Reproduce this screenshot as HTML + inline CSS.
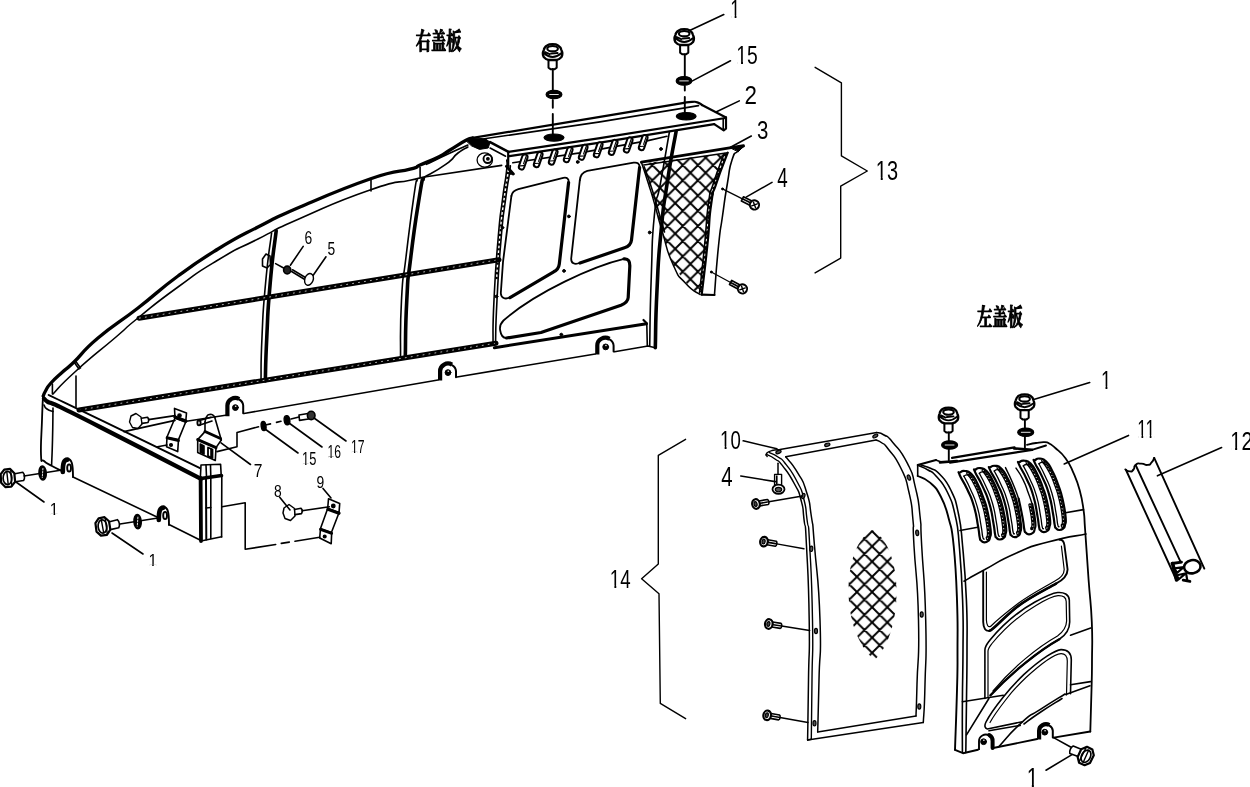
<!DOCTYPE html>
<html><head><meta charset="utf-8"><title>右盖板 左盖板</title>
<style>
html,body{margin:0;padding:0;background:#fff;}
body{width:1250px;height:787px;overflow:hidden;}
svg{display:block;filter:grayscale(1);}
text{font-family:"Liberation Sans","Noto Sans CJK SC",sans-serif;fill:#000;stroke:none;}
.cj{font-family:"Liberation Serif","Noto Serif CJK SC",serif;font-weight:700;}
</style></head><body>
<svg width="1250" height="787" viewBox="0 0 1250 787" fill="none" stroke="#000" stroke-linecap="round" stroke-linejoin="round">
<rect x="0" y="0" width="1250" height="787" fill="#fff" stroke="none"/>
<defs>
<pattern id="mesh" width="15.2" height="15.2" patternUnits="userSpaceOnUse" patternTransform="translate(675.2 172.8)">
<path d="M-1 -1 L16.2 16.2 M-1 16.2 L16.2 -1 M-1 14.2 L1 16.2 M14.2 -1 L16.2 1 M-1 1 L1 -1 M14.2 16.2 L16.2 14.2" stroke="#000" stroke-width="1.9" fill="none"/>
</pattern>
<pattern id="mesh2" width="15.2" height="15.2" patternUnits="userSpaceOnUse" patternTransform="translate(872.1 576.8)">
<path d="M-1 -1 L16.2 16.2 M-1 16.2 L16.2 -1 M-1 14.2 L1 16.2 M14.2 -1 L16.2 1 M-1 1 L1 -1 M14.2 16.2 L16.2 14.2" stroke="#000" stroke-width="1.9" fill="none"/>
</pattern>
</defs>
<path d="M43.2 396 C43.8 394.7 43.6 394.3 45.5 391 C47.4 387.7 46.1 388.4 50.5 383.5 C54.9 378.6 55.7 378.2 62 372.5 C68.3 366.8 64.4 371.2 74 362 C83.6 352.8 80.9 352.4 98 338 C115.1 323.6 116.7 324.5 138 308 C159.3 291.5 156.7 291.7 178 276 C199.3 260.3 196.7 262.1 218 249 C239.3 235.9 236.1 238.2 258 227 C279.9 215.8 270.1 219.8 300 207 C329.9 194.2 340.7 189.1 370 179 C399.3 168.9 396.7 172.9 410 169.2 C423.3 165.5 412.3 168.3 420 165 C427.7 161.7 431 160.7 439 156.7 C447 152.7 442.8 154.4 450 150 C457.2 145.6 459.9 143.5 466 140.3 C472.1 137.1 470.9 138.5 472.7 137.9" stroke-width="3.3" fill="none" />
<path d="M53 394 C60.7 386.3 55 390 76 371 C97 352 95.3 354.7 116 337 C136.7 319.3 117.3 334.7 138 318 C158.7 301.3 151.3 306.3 178 287 C204.7 267.7 191.3 276 218 260 C244.7 244 230.7 252.8 258 239 C285.3 225.2 262.7 234.8 300 218.5 C337.3 202.2 333.3 202.7 370 190 C406.7 177.3 391.8 184.6 410 180.3 C428.2 176 419.7 178.1 424.5 177" stroke-width="1.6" fill="none" />
<path d="M424.5 177 L501.7 165.4" stroke-width="1.6" fill="none" />
<path d="M426.4 164.4 C433.8 160.9 434.8 160.2 448.6 153.8 C462.4 147.4 461.5 148 467.9 145.1" stroke-width="1.6" fill="none" />
<path d="M424.5 177 C431.6 172.8 434.5 172.4 445.7 164.4 C456.9 156.4 450.6 158.8 458 153 C465.4 147.2 464.6 149 467.9 147" stroke-width="1.6" fill="none" />
<path d="M371 179 L371 191" stroke-width="1.6" fill="none" />
<path d="M74 362 L79 369" stroke-width="1.6" fill="none" />
<path d="M75.5 361 L80.5 368" stroke-width="1.6" fill="none" />
<path d="M420.1 167.3 L420.1 177" stroke-width="1.6" fill="none" />
<path d="M466 140.3 L472.7 137.9 L485.3 138.8 L490.1 142.2 L488.2 148 L479.5 149.4 L471.8 146 Z" stroke-width="1" fill="#000" />
<path d="M271.6 233 C269.6 249.7 268.8 248.3 265.6 283 C262.4 317.7 263.5 304.3 262 337 C260.5 369.7 261.3 366.3 261 381" stroke-width="1.6" fill="none" />
<path d="M276.2 230.8 C274.2 248.2 273.3 247.6 270.2 283 C267.1 318.4 268.4 304.3 266.8 337 C265.2 369.7 265.8 366.3 265.3 381" stroke-width="3.6" fill="none" />
<path d="M417.2 179.8 C416.1 185.2 417.6 170.3 413.9 196 C410.2 221.7 410.1 222.3 406 257 C401.9 291.7 403.3 266.3 401.5 300 C399.7 333.7 400.8 338.7 400.5 358" stroke-width="1.6" fill="none" />
<path d="M423.3 178.5 C422 184.3 423.7 169.8 419.5 196 C415.3 222.2 415 222.3 410.8 257 C406.6 291.7 408.6 266.7 406.8 300 C405 333.3 405.8 338 405.3 357" stroke-width="3.6" fill="none" />
<path d="M139 318.2 L499 259.7" stroke-width="5" fill="none" />
<path d="M139 318.2 L499 259.7" stroke-width="0.7" fill="none" stroke="#fff" stroke-dasharray="1.8 4.2" stroke-linecap="butt"/>
<path d="M79 410 L496 343.2" stroke-width="5" fill="none" />
<path d="M79 410 L496 343.2" stroke-width="0.7" fill="none" stroke="#fff" stroke-dasharray="1.8 4.2" stroke-linecap="butt"/>
<path d="M124 431.6 L175 420.4" stroke-width="1.6" fill="none" />
<path d="M186.5 421.3 L225.5 415.3" stroke-width="1.6" fill="none" />
<path d="M244 413.5 L438 380" stroke-width="1.6" fill="none" />
<path d="M457 377 L595.3 354" stroke-width="1.6" fill="none" />
<path d="M614.5 351.7 L648 346 L655.3 347.7" stroke-width="1.6" fill="none" />
<path d="M227.4 416.2 L227.4 405.5 A7.9 7.5 0 0 1 239.2 399" stroke-width="4.2" stroke-linecap="butt"/>
<path d="M239.2 399.5 A7.9 7.5 0 0 1 243.2 405.5 L243.2 413.3" stroke-width="2"/>
<ellipse cx="235.4" cy="407.6" rx="2.9" ry="2.9" stroke-width="1" fill="#000"/>
<ellipse cx="235.7" cy="406.2" rx="0.9" ry="0.7" stroke-width="0.1" fill="#fff"/>
<path d="M440.1 380.6 L440.1 371.1 A7.9 7.6 0 0 1 452 364.6" stroke-width="4.2" stroke-linecap="butt"/>
<path d="M452 365.1 A7.9 7.6 0 0 1 456 371.1 L456 377.2" stroke-width="2"/>
<ellipse cx="448" cy="372.6" rx="2.9" ry="2.9" stroke-width="1" fill="#000"/>
<ellipse cx="448.3" cy="371.2" rx="0.9" ry="0.7" stroke-width="0.1" fill="#fff"/>
<path d="M597.3 354.6 L597.3 345.5 A8.1 7.7 0 0 1 609.5 338.8" stroke-width="4.2" stroke-linecap="butt"/>
<path d="M609.5 339.3 A8.1 7.7 0 0 1 613.6 345.5 L613.6 351.6" stroke-width="2"/>
<ellipse cx="605.7" cy="346.9" rx="2.9" ry="2.9" stroke-width="1" fill="#000"/>
<ellipse cx="606" cy="345.5" rx="0.9" ry="0.7" stroke-width="0.1" fill="#fff"/>
<path d="M48.6 395 C50.5 395.9 47.7 394.6 58 399.5 C68.3 404.4 71.6 405.9 100 419.6 C128.4 433.3 180 458.5 200 468.2" stroke-width="1.9" fill="none" />
<path d="M44 398.5 C44.8 399.2 45.2 400.5 48 402 C50.8 403.5 47.6 401 58 406 C68.4 411 71.4 412.4 100 427 C128.6 441.6 180.8 468.4 201 478.8" stroke-width="4.3" fill="none" />
<path d="M52.4 384 L52.4 394" stroke-width="1.6" fill="none" />
<path d="M43 396 C42.7 402.4 42.5 404.3 42 420 C41.5 435.7 40.5 444.1 41 455 C41.5 465.9 41.1 458.1 44 461 C46.9 463.9 47.2 463.3 52 466 C56.8 468.7 59.3 469.7 62 471" stroke-width="1.8" fill="none" />
<path d="M53 408 C52.8 418.7 53 421 52.5 440 C52 459 51.9 456.7 51.6 465" stroke-width="1.6" fill="none" />
<path d="M44 405 C45 406.3 44 406.8 47 409 C50 411.2 51 410.7 53 411.5" stroke-width="1.6" fill="none" />
<path d="M76 376 L76 407" stroke-width="1.6" fill="none" />
<path d="M73 477 L158 517.5" stroke-width="1.6" fill="none" />
<path d="M169 524.5 L200 540" stroke-width="1.6" fill="none" />
<path d="M62.8 472 C62.8 462.5 64 459.8 67.5 459.6" stroke-width="4.6"/>
<path d="M67.5 459 C71.5 459 73 463 73 477" stroke-width="1.9"/>
<ellipse cx="69.1" cy="468" rx="1.9" ry="3.6" stroke-width="1.9" fill="none"/>
<path d="M158.8 520 C158.8 510.5 160 507.8 163.5 507.6" stroke-width="4.6"/>
<path d="M163.5 507 C167.5 507 169 511 169 525" stroke-width="1.9"/>
<ellipse cx="165.1" cy="515.5" rx="1.9" ry="3.6" stroke-width="1.9" fill="none"/>
<path d="M200.4 477 L201 465 L220.6 464.3 L221.2 475.5" stroke-width="1.6" fill="none" />
<path d="M206 465 L206.5 477" stroke-width="1.6" fill="none" />
<path d="M210.5 465 L210.8 476.5" stroke-width="1.6" fill="none" />
<path d="M201 478.5 L221.5 475.5" stroke-width="3.6" fill="none" />
<path d="M200.6 478 L201 541" stroke-width="3.8" fill="none" />
<path d="M206 479 L206.3 539.5" stroke-width="2" fill="none" />
<path d="M210.8 478 L210.8 538.5" stroke-width="1.6" fill="none" />
<path d="M221.8 476 L221.6 537" stroke-width="1.6" fill="none" />
<path d="M201 541 L221.6 536.8" stroke-width="1.6" fill="none" />
<path d="M206 508 L210.8 507.5" stroke-width="1.6" fill="none" />
<path d="M222 506.8 L245.2 502.8 L245.2 549.3 L275.7 544.5" stroke-width="1.6" fill="none" />
<path d="M281.3 543.4 L289.3 542.1" stroke-width="1.6" fill="none" />
<path d="M295 541.3 L319.7 537.3" stroke-width="1.6" fill="none" />
<g transform="translate(8 478) rotate(-2)"><path d="M-3.5 -8.5 L2.5 -9 L6.5 -4.5 L7 4 L3 8.8 L-3 9 L-7 4.5 L-7.2 -4 Z" stroke-width="2.2"/><ellipse cx="-0.5" cy="0" rx="4.4" ry="6.6" stroke-width="1.7"/><path d="M-1 -6.6 L0 6.6 M3 -8.5 L3.5 8.5" stroke-width="1.4"/><path d="M7 -4 L15 -5.2 C17 -3,17 1,15.5 3 L7 4" stroke-width="1.6"/></g>
<g transform="translate(103 526.4) rotate(-6)"><path d="M-3.5 -8.5 L2.5 -9 L6.5 -4.5 L7 4 L3 8.8 L-3 9 L-7 4.5 L-7.2 -4 Z" stroke-width="2.2"/><ellipse cx="-0.5" cy="0" rx="4.4" ry="6.6" stroke-width="1.7"/><path d="M-1 -6.6 L0 6.6 M3 -8.5 L3.5 8.5" stroke-width="1.4"/><path d="M7 -4 L15 -5.2 C17 -3,17 1,15.5 3 L7 4" stroke-width="1.6"/></g>
<path d="M24 476 L62 470" stroke-width="1.6" fill="none" />
<path d="M120 524 L158 518" stroke-width="1.6" fill="none" />
<ellipse cx="42.6" cy="473" rx="3.6" ry="7" stroke-width="1.6" fill="#000" transform="rotate(-4 42.6 473)"/>
<path d="M42.9 468.5 L42.3 477.5" stroke="#fff" stroke-width="0.9" stroke-dasharray="1.5 1.5"/>
<ellipse cx="137.6" cy="521.6" rx="3.6" ry="7" stroke-width="1.6" fill="#000" transform="rotate(-4 137.6 521.6)"/>
<path d="M137.9 517.1 L137.3 526.1" stroke="#fff" stroke-width="0.9" stroke-dasharray="1.5 1.5"/>
<path d="M16 482 L44 502" stroke-width="1.6" fill="none" />
<path d="M112 533 L143 554" stroke-width="1.6" fill="none" />
<path d="M174.5 408.4 L186.5 413 L185.7 422 L175 418 Z" stroke-width="1.6" fill="none" />
<path d="M175 418 L167 437" stroke-width="1.6" fill="none" />
<path d="M185.7 422 L178.5 439.6" stroke-width="1.6" fill="none" />
<path d="M167 437 L178.5 439.6 L177.7 451.6 L166.5 446.8 Z" stroke-width="1.6" fill="none" />
<path d="M167 438 L178.5 440.6" stroke-width="2.8" fill="none" />
<path d="M175 417.2 L185.8 421.2" stroke-width="3.4" fill="none" />
<ellipse cx="179.5" cy="415.6" rx="1.6" ry="1.6" stroke-width="1.5" fill="#000"/>
<ellipse cx="171" cy="445" rx="1.4" ry="1.4" stroke-width="1.3" fill="#000"/>
<path d="M157.6 446.8 L167 445" stroke-width="1.6" fill="none" />
<path d="M131 416 L136 413.5 L141 417 L142 424 L138 428.5 L132.5 427.5 L129.5 422 Z" stroke-width="1.4" fill="none" />
<path d="M141.5 418.2 L147.5 417.2 L149 419.5 L148 422.5 L142 423.4" stroke-width="1.6" fill="none" />
<path d="M148.5 419.6 L175 415.6" stroke-width="1.6" fill="none" />
<ellipse cx="199" cy="422.8" rx="1.6" ry="2.6" stroke-width="1.9" fill="none"/>
<path d="M199.5 420.6 L211 417.2" stroke-width="1.6" fill="none" />
<path d="M200 425 L212 421" stroke-width="1.6" fill="none" />
<path d="M205 422 C205.5 420.3 205 419.5 206.5 417 C208 414.5 207.3 415.2 209.5 414.6 C211.7 414 211.2 414.2 213 415.2 C214.8 416.2 214.2 416.7 214.8 417.5" stroke-width="1.6" fill="none" />
<path d="M214.8 417.5 L221.3 440" stroke-width="1.6" fill="none" />
<path d="M205 422 L205 431.6 L197.7 439.6 L197.7 452.4 L215.3 460.5 L216 447.6 L221.3 440" stroke-width="1.6" fill="none" />
<path d="M205 431.5 L220.5 438.5" stroke-width="3" fill="none" />
<path d="M197.7 439.6 L216 447.6" stroke-width="3" fill="none" />
<path d="M200.3 444 L200.3 452 L204 454 L204 446 Z" stroke-width="1.6" fill="#000" />
<path d="M208 447.5 L208 456 L212.5 458 L212.5 449.5 Z" stroke-width="1.8" fill="none" />
<path d="M211.3 449.5 L211.3 457" stroke-width="2.2" fill="none" />
<path d="M217 451.6 L237 446.8 L237 432.4 L258.5 426.8" stroke-width="1.6" fill="none" />
<path d="M266.5 424.8 L270.5 423.9" stroke-width="1.6" fill="none" />
<path d="M276.5 422.4 L281 421.3" stroke-width="1.6" fill="none" />
<path d="M291 419 L299 417" stroke-width="1.6" fill="none" />
<path d="M221 442.8 L250.5 464.5" stroke-width="1.6" fill="none" />
<ellipse cx="263.6" cy="426" rx="2.4" ry="4.6" stroke-width="1.4" fill="#000" transform="rotate(-8 263.6 426)"/>
<ellipse cx="287" cy="420.2" rx="2.8" ry="4.6" stroke-width="1.4" fill="#000" transform="rotate(-8 287 420.2)"/>
<path d="M299 415 L308 413.5 L308.5 419 L299.5 420.4 Z" stroke-width="1.6" fill="none" />
<ellipse cx="311.2" cy="415.4" rx="3.8" ry="4.2" stroke-width="1.6" fill="#333"/>
<path d="M265 429 L298 453" stroke-width="1.6" fill="none" />
<path d="M289 423 L322 447" stroke-width="1.6" fill="none" />
<path d="M314 418 L346 441" stroke-width="1.6" fill="none" />
<path d="M284 508 L289 504.5 L294.5 508.5 L295 516 L290.5 520.5 L285 518.5 L283 513 Z" stroke-width="1.5" fill="none" />
<path d="M294.5 509.5 L301 508.3 L302.6 510.5 L301.6 513.6 L295 514.6" stroke-width="1.6" fill="none" />
<path d="M302 510.8 L329.3 506.8" stroke-width="1.6" fill="none" />
<path d="M328.5 498.8 L339.7 503.6 L339 512.8 L327.7 508.4 Z" stroke-width="1.6" fill="none" />
<path d="M327.7 508.4 L320.5 528.4" stroke-width="1.6" fill="none" />
<path d="M339 512.8 L331.7 531.7" stroke-width="1.6" fill="none" />
<path d="M320.5 528.5 L331.7 532.4 L331.2 543.7 L319.7 538 Z" stroke-width="1.6" fill="none" />
<path d="M328 509.2 L339 513.3" stroke-width="3.2" fill="none" />
<path d="M320.5 529.5 L331.7 533.3" stroke-width="2.8" fill="none" />
<ellipse cx="333.3" cy="506" rx="1.7" ry="1.7" stroke-width="1.4" fill="#000"/>
<ellipse cx="324.7" cy="536.5" rx="1.4" ry="1.4" stroke-width="1.3" fill="#000"/>
<path d="M323 488.4 L331 498" stroke-width="1.6" fill="none" />
<path d="M279.7 497.2 L290 510" stroke-width="1.6" fill="none" />
<path d="M262.5 259 L266 254 L270 256 L270.5 264.5 L267 268 L262.5 266 Z" stroke-width="1.6" fill="none" />
<path d="M275.6 263.6 L283.6 268" stroke-width="1.6" fill="none" />
<ellipse cx="287.2" cy="270" rx="3.6" ry="3.9" stroke-width="1.6" fill="#222"/>
<path d="M291.6 271.5 L304.4 279.2" stroke-width="1.6" fill="none" />
<path d="M292.5 269.8 L305 277.2" stroke-width="1.6" fill="none" />
<ellipse cx="309" cy="279.4" rx="4.2" ry="6" stroke-width="1.4" fill="none" transform="rotate(20 309 279.4)"/>
<path d="M290.4 265.2 L303.2 246.4" stroke-width="1.6" fill="none" />
<path d="M313.2 275.2 L326 256.8" stroke-width="1.6" fill="none" />
<path d="M472.7 137.9 L600 116.8 L684 102.8" stroke-width="2.2" fill="none" />
<path d="M684 102.8 C686.7 102.5 687.5 102 692 101.9 C696.5 101.8 694.1 101.4 697.4 102.4 C700.7 103.4 700.5 104.1 702 105" stroke-width="2.2" fill="none" />
<path d="M702 105 L726 117.4" stroke-width="2.2" fill="none" />
<path d="M484.3 138.8 L600 121.9 L698.5 105.6" stroke-width="1.6" fill="none" />
<path d="M490.1 142.2 L508.5 151.9" stroke-width="2.6" fill="none" />
<path d="M490.1 148 L505.6 156.2" stroke-width="1.6" fill="none" />
<path d="M508.5 151.9 L600 138.1 L725.4 118" stroke-width="2.2" fill="none" />
<path d="M509.4 156.2 L600 142.6 L714.2 124.1" stroke-width="2.2" fill="none" />
<path d="M726 117.4 L726 128.6 L723.7 130.3 L714.2 124.1" stroke-width="2.2" fill="none" />
<path d="M723.2 119.1 L723.2 129.7" stroke-width="1.6" fill="none" />
<ellipse cx="554" cy="137.6" rx="10" ry="3.6" stroke-width="1.2" fill="#000"/>
<ellipse cx="686.2" cy="116.3" rx="9.9" ry="3.7" stroke-width="1.2" fill="#000"/>
<ellipse cx="554" cy="94.5" rx="7.9" ry="4.2" stroke-width="1.2" fill="#000"/>
<path d="M549.7 94.5 L558.3 94.5" stroke="#fff" stroke-width="0.9"/>
<ellipse cx="684" cy="80.9" rx="7.8" ry="4.3" stroke-width="1.2" fill="#000"/>
<path d="M679.7 80.9 L688.3 80.9" stroke="#fff" stroke-width="0.9"/>
<g transform="translate(552.6 44)"><path d="M-5.5 1.4 C-3 -0.3,3 -0.3,5.5 1.4 C7.5 2.6,8.6 4.2,8.8 6 C9.8 8,9.9 11,9 12.8 L6.6 15 L4 16 L-4 16 L-6.6 15 L-9 12.8 C-9.9 11,-9.8 8,-8.8 6 C-8.6 4.2,-7.5 2.6,-5.5 1.4 Z" stroke-width="2.3" fill="#fff"/><ellipse cx="0" cy="4.7" rx="5.3" ry="2.7" stroke-width="2.1"/><path d="M-8.6 9.2 C-5 12.4,-2 13,0 13 C2 13,5 12.4,8.6 9.2 M-7.5 8 L-3 10.2 M-1.5 9.6 L5 9" stroke-width="1.9"/><path d="M-4.1 16 L-4.1 23.6 L-2 25.2 L2 25.2 L4.1 23.6 L4.1 16" stroke-width="2.0"/></g>
<g transform="translate(684.2 29)"><path d="M-5.5 1.4 C-3 -0.3,3 -0.3,5.5 1.4 C7.5 2.6,8.6 4.2,8.8 6 C9.8 8,9.9 11,9 12.8 L6.6 15 L4 16 L-4 16 L-6.6 15 L-9 12.8 C-9.9 11,-9.8 8,-8.8 6 C-8.6 4.2,-7.5 2.6,-5.5 1.4 Z" stroke-width="2.3" fill="#fff"/><ellipse cx="0" cy="4.7" rx="5.3" ry="2.7" stroke-width="2.1"/><path d="M-8.6 9.2 C-5 12.4,-2 13,0 13 C2 13,5 12.4,8.6 9.2 M-7.5 8 L-3 10.2 M-1.5 9.6 L5 9" stroke-width="1.9"/><path d="M-4.1 16 L-4.1 23.6 L-2 25.2 L2 25.2 L4.1 23.6 L4.1 16" stroke-width="2.0"/></g>
<path d="M552.8 69 L552.8 90.5" stroke-width="1.9" fill="none" />
<path d="M552.8 100 L552.8 107.8" stroke-width="1.9" fill="none" />
<path d="M552.8 114 L552.8 135" stroke-width="1.9" fill="none" />
<path d="M684.8 54.5 L684.8 77" stroke-width="1.9" fill="none" />
<path d="M684.8 86 L684.8 90.5" stroke-width="1.9" fill="none" />
<path d="M684.8 97 L684.8 114.5" stroke-width="1.9" fill="none" />
<path d="M690.2 30.2 L723.8 14.6" stroke-width="1.6" fill="none" />
<path d="M691 81.6 L730.5 60.8" stroke-width="1.6" fill="none" />
<path d="M716 112 L739.3 100.9" stroke-width="1.6" fill="none" />
<path d="M730.5 147.2 L751.3 136" stroke-width="1.6" fill="none" />
<path d="M746.5 196.9 L772 182.4" stroke-width="1.6" fill="none" />
<path d="M512.8 162.8 L580 152.9 L648 140.6 L667 136.2" stroke-width="1.6" fill="none" />
<path d="M508.2 152 L508.2 166" stroke-width="2.2" fill="none" />
<g transform="translate(523.2 162) rotate(19)"><rect x="-2.7" y="-7.8" width="5.4" height="15.6" rx="2.7" ry="2.7" stroke-width="2.0" fill="#fff"/><path d="M0.9 -6.5 L0.9 1.5 M-1.6 4.6 L1.9 3.2" stroke-width="1.1"/></g>
<g transform="translate(538.2 159.6) rotate(19)"><rect x="-2.7" y="-7.8" width="5.4" height="15.6" rx="2.7" ry="2.7" stroke-width="2.0" fill="#fff"/><path d="M0.9 -6.5 L0.9 1.5 M-1.6 4.6 L1.9 3.2" stroke-width="1.1"/></g>
<g transform="translate(553.2 157.1) rotate(19)"><rect x="-2.7" y="-7.8" width="5.4" height="15.6" rx="2.7" ry="2.7" stroke-width="2.0" fill="#fff"/><path d="M0.9 -6.5 L0.9 1.5 M-1.6 4.6 L1.9 3.2" stroke-width="1.1"/></g>
<g transform="translate(568.2 154.7) rotate(19)"><rect x="-2.7" y="-7.8" width="5.4" height="15.6" rx="2.7" ry="2.7" stroke-width="2.0" fill="#fff"/><path d="M0.9 -6.5 L0.9 1.5 M-1.6 4.6 L1.9 3.2" stroke-width="1.1"/></g>
<g transform="translate(583.2 152.3) rotate(19)"><rect x="-2.7" y="-7.8" width="5.4" height="15.6" rx="2.7" ry="2.7" stroke-width="2.0" fill="#fff"/><path d="M0.9 -6.5 L0.9 1.5 M-1.6 4.6 L1.9 3.2" stroke-width="1.1"/></g>
<g transform="translate(598.2 149.8) rotate(19)"><rect x="-2.7" y="-7.8" width="5.4" height="15.6" rx="2.7" ry="2.7" stroke-width="2.0" fill="#fff"/><path d="M0.9 -6.5 L0.9 1.5 M-1.6 4.6 L1.9 3.2" stroke-width="1.1"/></g>
<g transform="translate(613.2 147.4) rotate(19)"><rect x="-2.7" y="-7.8" width="5.4" height="15.6" rx="2.7" ry="2.7" stroke-width="2.0" fill="#fff"/><path d="M0.9 -6.5 L0.9 1.5 M-1.6 4.6 L1.9 3.2" stroke-width="1.1"/></g>
<g transform="translate(628.2 145) rotate(19)"><rect x="-2.7" y="-7.8" width="5.4" height="15.6" rx="2.7" ry="2.7" stroke-width="2.0" fill="#fff"/><path d="M0.9 -6.5 L0.9 1.5 M-1.6 4.6 L1.9 3.2" stroke-width="1.1"/></g>
<g transform="translate(643.2 142.6) rotate(19)"><rect x="-2.7" y="-7.8" width="5.4" height="15.6" rx="2.7" ry="2.7" stroke-width="2.0" fill="#fff"/><path d="M0.9 -6.5 L0.9 1.5 M-1.6 4.6 L1.9 3.2" stroke-width="1.1"/></g>
<ellipse cx="484.8" cy="160" rx="7.7" ry="7.2" stroke-width="1.3" fill="none"/>
<ellipse cx="487.7" cy="158.8" rx="4.2" ry="4.2" stroke-width="1.9" fill="none"/>
<ellipse cx="487.9" cy="158.8" rx="1.3" ry="1.3" stroke-width="1.2" fill="#000"/>
<path d="M506.8 160 C506.7 164.1 507.9 159.1 506.4 172.4 C504.9 185.7 505.2 177.5 502.4 200 C499.6 222.5 500.8 206.7 498 240 C495.2 273.3 495.7 265.3 494 300 C492.3 334.7 493.3 329.3 493 344" stroke-width="1.6" fill="none" />
<path d="M510 166 C509.9 168.1 511.1 161.1 509.6 172.4 C508.1 183.7 508.4 177.5 505.5 200 C502.6 222.5 503.8 206.7 501 240 C498.2 273.3 498.8 265.3 497 300 C495.2 334.7 496 329.3 495.5 344" stroke-width="1.6" fill="none" />
<path d="M508.2 172 L504 200 L499.5 240 L496.5 280" stroke="#000" stroke-width="2.2" stroke-dasharray="2.2 2.6" stroke-linecap="butt"/>
<path d="M506.5 166.3 L513.3 174" stroke-width="3" fill="none" />
<path d="M669.4 132 C666.4 149 665.5 155.3 660.5 183 C655.5 210.7 657.5 184 654.4 215 C651.3 246 652.9 232.3 651.3 276 C649.7 319.7 650.2 322.7 649.7 346" stroke-width="1.6" fill="none" />
<path d="M676.1 131.5 C673.1 148.7 672.2 149.5 667.2 183 C662.2 216.5 664.4 196.3 661 232 C657.6 267.7 658.9 251.4 657 290 C655.1 328.6 655.9 328.5 655.3 347.7" stroke-width="3.6" fill="none" />
<path d="M494.4 347.7 L646.5 323.7" stroke-width="3" fill="none" />
<path d="M646.8 324 L647.3 346" stroke-width="1.6" fill="none" />
<path d="M643.5 320 L646.5 323" stroke-width="2.2" fill="none" />
<path d="M511.4 196 C512 192.5,514 190.5,518.4 189.2 L563.3 177.9 C566.8 177.2,569.2 178.6,568.6 182.5" stroke-width="1.8"/>
<path d="M568.6 182.5 L559.3 264 C558.8 268.2,557 270.2,553.7 271.8 L510 297.6" stroke-width="3.2"/>
<path d="M510 297.6 C505 299.6,501.2 298.2,500.8 293.2 L503 262 L511.4 196" stroke-width="1.8"/>
<path d="M579.8 180.4 C580.2 175.5,582.5 172.2,587.3 170.8 L633.6 162.7 C637.6 162.2,639.8 163.5,639.6 167.5" stroke-width="1.8"/>
<path d="M639.6 167.5 L631.5 240 C631 244,629 246.4,624.5 247.8 L580 263" stroke-width="3.2"/>
<path d="M580 263 C574.5 264.8,571 263.5,571.2 258.5 L579.8 180.4" stroke-width="1.8"/>
<path d="M624 258.9 C594 266,536 292,503.5 320.5 C500 324,499.5 327,500.2 330.5 C501 335.5,502.5 338.2,506.5 338" stroke-width="1.8"/>
<path d="M506.5 338 L541 332.5 L621 305.2 C626 303.2,628 301,628.2 297.5 L629.8 266.5 C630 261.5,628.5 258.5,624 258.9" stroke-width="3.2"/>
<ellipse cx="577.7" cy="162" rx="1.4" ry="1.4" stroke-width="1" fill="#000"/>
<ellipse cx="568.9" cy="216.4" rx="1.4" ry="1.4" stroke-width="1" fill="#000"/>
<ellipse cx="649.7" cy="232.5" rx="1.4" ry="1.4" stroke-width="1" fill="#000"/>
<ellipse cx="564" cy="270.9" rx="1.4" ry="1.4" stroke-width="1" fill="#000"/>
<ellipse cx="502.4" cy="227.7" rx="1.4" ry="1.4" stroke-width="1" fill="#000"/>
<ellipse cx="511" cy="173" rx="1.4" ry="1.4" stroke-width="1" fill="#000"/>
<ellipse cx="661" cy="149" rx="1.4" ry="1.4" stroke-width="1" fill="#000"/>
<ellipse cx="561.3" cy="334.6" rx="1.4" ry="1.4" stroke-width="1" fill="#000"/>
<ellipse cx="496.5" cy="296.5" rx="1.4" ry="1.4" stroke-width="1" fill="#000"/>
<path d="M642.5 163.5 L727 153 L716.5 183 L711.3 203.3 L707.3 246 L701.5 294 L700 294 C692 290,684 282,672.8 264 C668 254,664 240,662.4 232 L654.4 203.3 L648.2 183 Z" fill="url(#mesh)" stroke="none"/>
<path d="M641.4 162.2 L743.5 145.6" stroke-width="2.8" fill="none" />
<path d="M643.7 165 L727.7 152.7" stroke-width="1.6" fill="none" />
<path d="M641.4 162.2 C643.7 169.1 643.9 169.3 648.2 183 C652.5 196.7 649.7 187 654.4 203.3 C659.1 219.6 656.3 211.8 662.4 232 C668.5 252.2 665.1 246.9 672.8 264 C680.5 281.1 676.5 273.1 685.6 283.3 C694.7 293.5 695.2 290.8 700 294.5" stroke-width="1.5" fill="none" />
<path d="M644.2 166.7 C646.3 172.8 646.3 171.9 650.6 185 C654.9 198.1 652.4 190.3 657 206 C661.6 221.7 662 223.3 664.5 232" stroke-width="1.6" fill="none" />
<path d="M727.7 152.7 C724 162.8 722 166.1 716.5 183 C711 199.9 714.4 182.3 711.3 203.3 C708.2 224.3 710.5 215.6 707.3 246 C704.1 276.4 703.6 278.3 701.7 294.5" stroke-width="2.2" fill="none" />
<path d="M724.2 153.5 C720.6 163.3 718.7 166.4 713.5 183 C708.3 199.6 711.5 182.3 708.5 203.3 C705.5 224.3 707.5 216.1 704.5 246 C701.5 275.9 701.2 277.3 699.5 293" stroke-width="1.6" fill="none" />
<path d="M725.8 154 L715 183 L710 203.3 L706 246 L700.8 292" stroke="#000" stroke-width="2.6" stroke-dasharray="2.5 2.5" stroke-linecap="butt"/>
<path d="M744 146.4 C742 147.9 742 146.5 738 151 C734 155.5 735.6 149 732 160 C728.4 171 730.5 165.3 727.3 184 C724.1 202.7 725.4 195.3 722.5 216 C719.6 236.7 721.2 219.8 718.5 246 C715.8 272.2 715.8 278.3 714.5 294.5" stroke-width="1.6" fill="none" />
<path d="M730 147.6 L744 146 L738.5 151.5 Z" stroke-width="1" fill="#000" />
<path d="M701.7 294.7 L714.5 295" stroke-width="2.2" fill="none" />
<g transform="translate(754.5 204.9) rotate(-153.4)"><path d="M3.5 -2.3 L13.5 -2.3 L13.5 2.3 L3.5 2.3 M4 0 L13 0" stroke-width="1.7"/><circle cx="0" cy="0" r="4.6" stroke-width="2.0" fill="#fff"/><path d="M-2.2 -2 L2.2 2 M-2 2.2 L2 -2.2" stroke-width="1.4"/><path d="M13.5 0 L35.8 0" stroke-width="1.25"/></g>
<g transform="translate(742.5 288.9) rotate(-151.6)"><path d="M3.5 -2.3 L13.5 -2.3 L13.5 2.3 L3.5 2.3 M4 0 L13 0" stroke-width="1.7"/><circle cx="0" cy="0" r="4.6" stroke-width="2.0" fill="#fff"/><path d="M-2.2 -2 L2.2 2 M-2 2.2 L2 -2.2" stroke-width="1.4"/><path d="M13.5 0 L35.5 0" stroke-width="1.25"/></g>
<ellipse cx="722.5" cy="188.9" rx="1" ry="1" stroke-width="1" fill="#000"/>
<ellipse cx="711.3" cy="272" rx="1" ry="1" stroke-width="1" fill="#000"/>
<path d="M815.1 67.3 L841.4 82.8 L841.4 155.9 L867.3 171 L840.7 186.1 L840.7 258.1 L815.1 272.9" stroke-width="1.4" fill="none" />
<path d="M685.6 439.3 L658.3 455.4 L658.3 564 L641.6 578.8 L659 593.7 L660.3 703.4 L685.6 718.7" stroke-width="1.4" fill="none" />
<path d="M872 530 C886 536,896 560,896.5 590 C897 620,888 648,874.5 660 C858 646,848.5 620,848.5 590 C848.5 560,858 538,872 530 Z" fill="url(#mesh2)" stroke="none"/>
<path d="M780 449.6 L876.8 432.5" stroke-width="1.5" fill="none" />
<path d="M785.7 456.8 L876 440" stroke-width="1.5" fill="none" />
<path d="M780 449.6 C777.3 449.9 776.5 449.2 772 450.5 C767.5 451.8 768.1 451.6 766.5 453.6 C764.9 455.6 767 455.5 767.2 456.5" stroke-width="1.4" fill="none" />
<path d="M766.5 454.4 C769.3 455.9 769.5 455 775 459 C780.5 463 776.5 458.1 783 466.4 C789.5 474.7 788.5 472.8 794.5 484 C800.5 495.2 797.8 488.2 801 500 C804.2 511.8 802.2 504 804 519.3 C805.8 534.6 804.8 512.4 806.5 546 C808.2 579.6 808.5 575.3 809.2 620 C809.9 664.7 809 640 808.5 680 C808 720 807.9 720 807.6 740" stroke-width="1.5" fill="none" />
<path d="M769.5 452.6 C772.3 454.1 772.5 453.1 778 457 C783.5 460.9 779.6 456.1 786 464.4 C792.4 472.7 791.4 470.5 797.3 482 C803.2 493.5 800.6 486.6 803.8 499 C807 511.4 805 503.6 807 519.3 C809 535 807.9 512.4 809.7 546 C811.5 579.6 811.7 575.3 812.5 620 C813.3 664.7 812.4 640.2 812 680 C811.6 719.8 811.5 719.5 811.3 739.3" stroke-width="1.4" fill="none" />
<path d="M785.7 456.8 C789.7 462.1 790.8 461.1 797.7 472.8 C804.6 484.5 802 477.6 806.5 492 C811 506.4 808.6 498 811.3 516 C814 534 811.6 511.3 814.5 546 C817.4 580.7 818.5 575.3 820 620 C821.5 664.7 819.8 642.7 819 680 C818.2 717.3 818.1 714.7 817.7 732" stroke-width="1.5" fill="none" />
<path d="M807.6 740 L923.3 722.5" stroke-width="1.5" fill="none" />
<path d="M817.7 732 L916 716" stroke-width="1.5" fill="none" />
<path d="M807.6 740 L811.3 739.3" stroke-width="1.4" fill="none" />
<path d="M876.8 432.5 C879.2 433.3 878.7 431.7 884 435 C889.3 438.3 885 433 892.8 442.4 C900.6 451.8 899.8 448.3 907.3 463.2 C914.8 478.1 911.1 469.6 915.3 487.2 C919.5 504.8 917.9 496.4 920 516 C922.1 535.6 919.8 511.3 921.7 546 C923.6 580.7 924.6 574 925.7 620 C926.8 666 925.8 649.8 925 684 C924.2 718.2 923.9 709.7 923.3 722.5" stroke-width="1.5" fill="none" />
<path d="M876 440 C878 441 878 440.1 882 443 C886 445.9 881.7 440.5 888 448.8 C894.3 457.1 893.8 453.6 900.8 468 C907.8 482.4 904.9 474.9 908.9 492 C912.9 509.1 911.2 501.3 912.9 519.3 C914.6 537.3 912.1 512.4 914 546 C915.9 579.6 917.5 574 918.5 620 C919.5 666 917.8 652 917 684 C916.2 716 916.3 705.3 916 716" stroke-width="1.5" fill="none" />
<ellipse cx="778.5" cy="452" rx="1.5" ry="2.7" stroke-width="1.2" fill="#555" transform="rotate(70 778.5 452)"/>
<ellipse cx="827.3" cy="444.8" rx="1.5" ry="2.7" stroke-width="1.2" fill="#555" transform="rotate(70 827.3 444.8)"/>
<ellipse cx="875.3" cy="436" rx="1.5" ry="2.7" stroke-width="1.2" fill="#555" transform="rotate(60 875.3 436)"/>
<ellipse cx="803.3" cy="496" rx="1.5" ry="2.7" stroke-width="1.2" fill="#555" transform="rotate(20 803.3 496)"/>
<ellipse cx="908.9" cy="477.6" rx="1.5" ry="2.7" stroke-width="1.2" fill="#555" transform="rotate(-20 908.9 477.6)"/>
<ellipse cx="811.3" cy="548.8" rx="1.5" ry="2.7" stroke-width="1.2" fill="#555" transform="rotate(5 811.3 548.8)"/>
<ellipse cx="917.2" cy="532.9" rx="1.5" ry="2.7" stroke-width="1.2" fill="#555" transform="rotate(-5 917.2 532.9)"/>
<ellipse cx="816" cy="631" rx="1.5" ry="2.7" stroke-width="1.2" fill="#555"/>
<ellipse cx="921.7" cy="614.5" rx="1.5" ry="2.7" stroke-width="1.2" fill="#555"/>
<ellipse cx="814.5" cy="723.3" rx="1.5" ry="2.7" stroke-width="1.2" fill="#555"/>
<ellipse cx="919.3" cy="706.5" rx="1.5" ry="2.7" stroke-width="1.2" fill="#555"/>
<g transform="translate(756 504) rotate(-9.8)"><path d="M3.5 -2.5 L12 -2.5 C13.4 -1.8,13.4 1.8,12 2.5 L3.5 2.5 M4.5 0 L11.5 0" stroke-width="1.6"/><ellipse cx="0" cy="0" rx="3.8" ry="4.8" stroke-width="2.2" fill="#fff"/><ellipse cx="-0.4" cy="0" rx="1.5" ry="2.4" stroke-width="1.2" fill="#444"/><path d="M13 0 L47.2 0" stroke-width="1.4"/></g>
<g transform="translate(764 541.6) rotate(10.2)"><path d="M3.5 -2.5 L12 -2.5 C13.4 -1.8,13.4 1.8,12 2.5 L3.5 2.5 M4.5 0 L11.5 0" stroke-width="1.6"/><ellipse cx="0" cy="0" rx="3.8" ry="4.8" stroke-width="2.2" fill="#fff"/><ellipse cx="-0.4" cy="0" rx="1.5" ry="2.4" stroke-width="1.2" fill="#444"/><path d="M13 0 L40.6 0" stroke-width="1.4"/></g>
<g transform="translate(768.8 624) rotate(9)"><path d="M3.5 -2.5 L12 -2.5 C13.4 -1.8,13.4 1.8,12 2.5 L3.5 2.5 M4.5 0 L11.5 0" stroke-width="1.6"/><ellipse cx="0" cy="0" rx="3.8" ry="4.8" stroke-width="2.2" fill="#fff"/><ellipse cx="-0.4" cy="0" rx="1.5" ry="2.4" stroke-width="1.2" fill="#444"/><path d="M13 0 L41.4 0" stroke-width="1.4"/></g>
<g transform="translate(767.2 715.3) rotate(10)"><path d="M3.5 -2.5 L12 -2.5 C13.4 -1.8,13.4 1.8,12 2.5 L3.5 2.5 M4.5 0 L11.5 0" stroke-width="1.6"/><ellipse cx="0" cy="0" rx="3.8" ry="4.8" stroke-width="2.2" fill="#fff"/><ellipse cx="-0.4" cy="0" rx="1.5" ry="2.4" stroke-width="1.2" fill="#444"/><path d="M13 0 L41.4 0" stroke-width="1.4"/></g>
<path d="M778 463.2 L778 474.4" stroke-width="1.5" fill="none" />
<path d="M774.6 474.4 L774.6 485 L781.6 485 L781.6 474.4 Z" stroke-width="1.4" fill="none" />
<path d="M776.8 476 L776.8 484" stroke-width="1.6" fill="none" />
<ellipse cx="778.5" cy="489.2" rx="6" ry="4.6" stroke-width="1.8" fill="#fff"/>
<ellipse cx="778.5" cy="489.6" rx="3.2" ry="2.2" stroke-width="1.2" fill="#555"/>
<path d="M740.8 476 L775.3 481.6" stroke-width="1.6" fill="none" />
<path d="M743.2 440.8 L776.9 448.8" stroke-width="1.6" fill="none" />
<path d="M917.7 465 L936 460" stroke-width="2" fill="none" />
<path d="M936 460 C937.3 460.5 937.8 460.8 940 461.5 C942.2 462.2 941.7 462 942.5 462.2" stroke-width="1.6" fill="none" />
<path d="M952 457.9 L1014.5 447.3" stroke-width="2.2" fill="none" />
<path d="M950 462.7 L1032 450" stroke-width="2.2" fill="none" />
<path d="M940 462.4 L957 461" stroke-width="2.6" fill="none" />
<path d="M1014 448.4 L1032 449.8" stroke-width="2.6" fill="none" />
<path d="M1027 444.8 C1029.4 444.3 1031.2 443.7 1036 443 C1040.8 442.3 1041.3 441.9 1045 442.2 C1048.7 442.5 1047.3 442.5 1050 444 C1052.7 445.5 1051.2 444.2 1055.3 448 C1059.4 451.8 1060.7 451.7 1065.5 458.2 C1070.3 464.7 1069.4 463.8 1073.2 472.4 C1077 481 1077 480.4 1079.7 490.3 C1082.4 500.2 1082 498.7 1083.5 509.6 C1085 520.5 1083.8 512.2 1085.2 531 C1086.6 549.8 1086.8 555.7 1088.6 580 C1090.4 604.3 1090.9 600.7 1091.8 622 C1092.7 643.3 1092.1 641.9 1092 660 C1091.9 678.1 1092 670.9 1091.5 690 C1091 709.1 1090.6 720.4 1090.3 731.5" stroke-width="1.8" fill="none" />
<path d="M1032 449.8 L1046 445.5" stroke-width="1.9" fill="none" />
<path d="M917.7 465 L917.7 476" stroke-width="1.6" fill="none" />
<path d="M917.7 476 C920.9 477.7 923.5 476.9 929.7 482.4 C935.9 487.9 935.8 487 940.9 496.8 C946 506.6 945.5 506.2 948.9 519.3 C952.3 532.4 951.5 524.5 953.7 546 C955.9 567.5 956 572.3 957 600 C958 627.7 957.5 626 957.5 650 C957.5 674 957.7 663.4 957 690 C956.3 716.6 955.5 733.9 955 749.8" stroke-width="1.9" fill="none" />
<path d="M918.5 465.5 C921 466.7 923.3 467.2 928 470 C932.7 472.8 930.9 470.1 936 476 C941.1 481.9 942.2 481.3 947.3 492 C952.4 502.7 952.1 501.6 955.3 516 C958.5 530.4 957.4 523.6 959.3 546 C961.2 568.4 961.6 572.3 962.6 600 C963.6 627.7 963.1 623.3 963 650 C962.9 676.7 962.6 672.6 962.4 700 C962.2 727.4 962.4 738.6 962.4 752.6" stroke-width="1.6" fill="none" />
<path d="M921 465 C923.7 465.9 926.1 466.1 931 468.5 C935.9 470.9 934.2 468.3 939.5 474 C944.8 479.7 945.7 479.3 950.8 490 C955.9 500.7 955.4 499.1 958.5 514 C961.6 528.9 960.5 523.1 962.6 546 C964.7 568.9 965.2 572.3 966.4 600 C967.6 627.7 967 623.3 967 650 C967 676.7 966.8 672.6 966.5 700 C966.2 727.4 966 738.6 965.8 752.6" stroke-width="1.6" fill="none" />
<path d="M955 749.8 L963 753.2 L978 749.8" stroke-width="1.9" fill="none" />
<path d="M960 530.5 L977.7 527.3" stroke-width="1.6" fill="none" />
<path d="M1065.5 512.8 L1083.5 509.6" stroke-width="1.6" fill="none" />
<path d="M964 581.2 C970.7 577.5 966.7 579.3 984 570 C1001.3 560.7 994.7 562.5 1016 553.2 C1037.3 543.9 1024.7 548.4 1048 542 C1071.3 535.6 1073.3 536.7 1086 534" stroke-width="1.6" fill="none" />
<path d="M1070.5 635.2 L1090.7 628" stroke-width="1.6" fill="none" />
<path d="M962.4 701.7 L1003.3 695.3" stroke-width="1.6" fill="none" />
<path d="M1065.7 694.5 L1090 685.8" stroke-width="1.6" fill="none" />
<path d="M1070.5 684.8 L1090.5 681.6" stroke-width="1.6" fill="none" />
<path d="M960.3 472.4 C961.9 471.2 961.6 470.6 964.9 471 C968.2 471.4 967.4 470.1 971.2 473.9 C974.9 477.7 973.8 476.6 977.4 483.6 C981 490.6 980.1 488.7 983.2 497.3 C986.3 505.9 985.5 502.6 987.7 512.2 C989.9 521.8 989.9 521.8 990.6 529.3 C991.3 536.8 990.8 533.8 990 537.3 C989.2 540.8 989.8 539.5 988.1 541 C986.4 542.5 986.4 542.5 984.3 542.4 C982.2 542.3 982.5 542.1 981.1 540.6 C979.7 539.1 980.6 541.7 979.7 537.3 C978.8 532.9 979.7 535.1 978 525.9 C976.3 516.7 977.2 517.5 974 506.5 C970.8 495.5 971.5 498.8 967.2 489.3 C962.9 479.9 961.8 480.1 959.7 475 C957.6 469.9 958.7 473.6 960.3 472.4 Z" stroke-width="2.2" fill="none" />
<path d="M968.1 473.8 C968.3 474 966.7 471.4 968.8 474.5 C970.9 477.6 971.4 477.2 975 484.2 C978.6 491.2 977.7 489.3 980.8 497.9 C983.9 506.5 983.1 503.2 985.3 512.8 C987.5 522.4 987.5 522.4 988.2 529.9 C988.9 537.4 987.9 535.6 987.6 537.9 C987.3 540.2 987.4 537.7 987.3 537.6" stroke-width="3.2" fill="none" />
<path d="M968.1 473.8 C968.3 474 966.7 471.4 968.8 474.5 C970.9 477.6 971.4 477.2 975 484.2 C978.6 491.2 977.7 489.3 980.8 497.9 C983.9 506.5 983.1 503.2 985.3 512.8 C987.5 522.4 987.5 522.4 988.2 529.9 C988.9 537.4 987.9 535.6 987.6 537.9 C987.3 540.2 987.4 537.7 987.3 537.6" stroke-width="0.9" fill="none" stroke="#fff" stroke-dasharray="1.3 2.2" stroke-linecap="butt"/>
<path d="M963.9 476.2 C965.8 480 966.3 479.8 970.2 488.7 C974.1 497.6 973.8 494.9 977 505.9 C980.2 516.9 979.3 516.1 981 525.3 C982.7 534.5 981.8 532.6 982.7 536.7 C983.6 540.8 983.7 538.4 984.1 539.1" stroke-width="1.3" fill="none" />
<path d="M963.9 476.2 C964.9 475.7 964.9 474.8 966.9 474.8 C968.9 474.8 968.9 475.7 969.9 476.1" stroke-width="1.3" fill="none" />
<path d="M975.7 469.5 C977.3 468.3 977 467.7 980.3 468.1 C983.6 468.6 982.8 467.2 986.6 471 C990.3 474.8 989.2 473.7 992.8 480.7 C996.4 487.7 995.5 485.8 998.6 494.4 C1001.7 503 1000.9 499.7 1003.1 509.3 C1005.3 518.9 1005.3 518.9 1006 526.4 C1006.7 533.9 1006.1 530.9 1005.4 534.4 C1004.6 537.9 1005.2 536.6 1003.5 538.1 C1001.8 539.6 1001.8 539.6 999.7 539.5 C997.6 539.4 997.9 539.2 996.5 537.7 C995.1 536.2 996 538.8 995.1 534.4 C994.2 530 995.1 532.2 993.4 523 C991.7 513.8 992.6 514.6 989.4 503.6 C986.2 492.6 986.9 495.9 982.6 486.4 C978.3 477 977.2 477.2 975.1 472.1 C973 467 974.1 470.7 975.7 469.5 Z" stroke-width="2.2" fill="none" />
<path d="M983.5 470.9 C983.7 471.1 982.1 468.5 984.2 471.6 C986.3 474.7 986.8 474.3 990.4 481.3 C994 488.3 993.1 486.4 996.2 495 C999.3 503.6 998.5 500.3 1000.7 509.9 C1002.9 519.5 1002.9 519.5 1003.6 527 C1004.3 534.5 1003.3 532.7 1003 535 C1002.7 537.3 1002.8 534.8 1002.7 534.7" stroke-width="3.2" fill="none" />
<path d="M983.5 470.9 C983.7 471.1 982.1 468.5 984.2 471.6 C986.3 474.7 986.8 474.3 990.4 481.3 C994 488.3 993.1 486.4 996.2 495 C999.3 503.6 998.5 500.3 1000.7 509.9 C1002.9 519.5 1002.9 519.5 1003.6 527 C1004.3 534.5 1003.3 532.7 1003 535 C1002.7 537.3 1002.8 534.8 1002.7 534.7" stroke-width="0.9" fill="none" stroke="#fff" stroke-dasharray="1.3 2.2" stroke-linecap="butt"/>
<path d="M979.3 473.3 C981.2 477.1 981.7 476.9 985.6 485.8 C989.5 494.7 989.2 492 992.4 503 C995.6 514 994.7 513.2 996.4 522.4 C998.1 531.6 997.2 529.7 998.1 533.8 C999 537.9 999.1 535.5 999.5 536.2" stroke-width="1.3" fill="none" />
<path d="M979.3 473.3 C980.3 472.8 980.3 471.9 982.3 471.9 C984.3 471.9 984.3 472.8 985.3 473.2" stroke-width="1.3" fill="none" />
<path d="M990.6 467.2 C992.2 466 991.9 465.4 995.2 465.8 C998.5 466.2 997.7 464.9 1001.5 468.7 C1005.2 472.5 1004.1 471.4 1007.7 478.4 C1011.3 485.4 1010.4 483.5 1013.5 492.1 C1016.6 500.7 1015.8 497.4 1018 507 C1020.2 516.6 1020.2 516.6 1020.9 524.1 C1021.6 531.6 1021 528.6 1020.3 532.1 C1019.5 535.6 1020.1 534.3 1018.4 535.8 C1016.7 537.3 1016.7 537.3 1014.6 537.2 C1012.5 537.1 1012.8 536.9 1011.4 535.4 C1010 533.9 1010.9 536.5 1010 532.1 C1009.1 527.7 1010 529.9 1008.3 520.7 C1006.6 511.5 1007.5 512.3 1004.3 501.3 C1001.1 490.3 1001.8 493.6 997.5 484.1 C993.2 474.7 992.1 474.9 990 469.8 C987.9 464.7 989 468.4 990.6 467.2 Z" stroke-width="2.2" fill="none" />
<path d="M998.4 468.6 C998.6 468.8 997 466.2 999.1 469.3 C1001.2 472.4 1001.7 472 1005.3 479 C1008.9 486 1008 484.1 1011.1 492.7 C1014.2 501.3 1013.4 498 1015.6 507.6 C1017.8 517.2 1017.8 517.2 1018.5 524.7 C1019.2 532.2 1018.2 530.4 1017.9 532.7 C1017.6 535 1017.7 532.5 1017.6 532.4" stroke-width="3.2" fill="none" />
<path d="M998.4 468.6 C998.6 468.8 997 466.2 999.1 469.3 C1001.2 472.4 1001.7 472 1005.3 479 C1008.9 486 1008 484.1 1011.1 492.7 C1014.2 501.3 1013.4 498 1015.6 507.6 C1017.8 517.2 1017.8 517.2 1018.5 524.7 C1019.2 532.2 1018.2 530.4 1017.9 532.7 C1017.6 535 1017.7 532.5 1017.6 532.4" stroke-width="0.9" fill="none" stroke="#fff" stroke-dasharray="1.3 2.2" stroke-linecap="butt"/>
<path d="M994.2 471 C996.1 474.8 996.6 474.6 1000.5 483.5 C1004.4 492.4 1004.1 489.7 1007.3 500.7 C1010.5 511.7 1009.6 510.9 1011.3 520.1 C1013 529.3 1012.1 527.4 1013 531.5 C1013.9 535.6 1014 533.2 1014.4 533.9" stroke-width="1.3" fill="none" />
<path d="M994.2 471 C995.2 470.5 995.2 469.6 997.2 469.6 C999.2 469.6 999.2 470.5 1000.2 470.9" stroke-width="1.3" fill="none" />
<path d="M1032.3 504.2 C1033.2 509.3 1034.5 513.8 1035.2 521.3 C1035.9 528.8 1035.3 525.8 1034.6 529.3 C1033.8 532.8 1034.4 531.5 1032.7 533 C1031 534.5 1031 534.5 1028.9 534.4 C1026.8 534.3 1027.1 534.1 1025.7 532.6 C1024.3 531.1 1025.2 533.7 1024.3 529.3 C1023.4 524.9 1024.3 527.1 1022.6 517.9 C1020.9 508.7 1019.8 504.3 1018.6 498.5" stroke-width="2.2" fill="none" />
<path d="M1005.5 467.6 C1007.8 472.6 1008.1 472.3 1012.5 482.6 C1016.9 492.9 1016.6 493.2 1018.6 498.5" stroke-width="1.4" fill="none" />
<path d="M1016 468.1 C1018.3 471.9 1018.8 471.1 1023 479.6 C1027.2 488.1 1025.4 485.4 1028.5 493.6 C1031.6 501.8 1031 500.7 1032.3 504.2" stroke-width="1.4" fill="none" />
<path d="M1029.9 504.8 C1030.8 509.9 1032.3 514.7 1032.8 521.9 C1033.3 529.1 1032 526.7 1031.7 528.7" stroke-width="3.2" fill="none" />
<path d="M1029.9 504.8 C1030.8 509.9 1032.3 514.7 1032.8 521.9 C1033.3 529.1 1032 526.7 1031.7 528.7" stroke-width="0.9" fill="none" stroke="#fff" stroke-dasharray="1.3 2.2" stroke-linecap="butt"/>
<path d="M1019.7 462.1 C1021.3 460.9 1021 460.2 1024.3 460.7 C1027.6 461.1 1026.8 459.8 1030.6 463.6 C1034.3 467.4 1033.2 466.3 1036.8 473.3 C1040.4 480.3 1039.5 478.4 1042.6 487 C1045.7 495.6 1044.9 492.3 1047.1 501.9 C1049.3 511.5 1049.3 511.5 1050 519 C1050.7 526.5 1050.1 523.5 1049.4 527 C1048.6 530.5 1049.2 529.2 1047.5 530.7 C1045.8 532.2 1045.8 532.2 1043.7 532.1 C1041.6 532 1041.9 531.8 1040.5 530.3 C1039.1 528.8 1040 531.4 1039.1 527 C1038.2 522.6 1039.1 524.8 1037.4 515.6 C1035.7 506.4 1036.6 507.2 1033.4 496.2 C1030.2 485.2 1030.9 488.4 1026.6 479 C1022.3 469.6 1021.2 469.8 1019.1 464.7 C1017 459.6 1018.1 463.3 1019.7 462.1 Z" stroke-width="2.2" fill="none" />
<path d="M1027.5 463.5 C1027.7 463.7 1026.1 461.1 1028.2 464.2 C1030.3 467.3 1030.8 466.9 1034.4 473.9 C1038 480.9 1037.1 479 1040.2 487.6 C1043.3 496.2 1042.5 492.9 1044.7 502.5 C1046.9 512.1 1046.9 512.1 1047.6 519.6 C1048.3 527.1 1047.3 525.3 1047 527.6 C1046.7 529.9 1046.8 527.4 1046.7 527.3" stroke-width="3.2" fill="none" />
<path d="M1027.5 463.5 C1027.7 463.7 1026.1 461.1 1028.2 464.2 C1030.3 467.3 1030.8 466.9 1034.4 473.9 C1038 480.9 1037.1 479 1040.2 487.6 C1043.3 496.2 1042.5 492.9 1044.7 502.5 C1046.9 512.1 1046.9 512.1 1047.6 519.6 C1048.3 527.1 1047.3 525.3 1047 527.6 C1046.7 529.9 1046.8 527.4 1046.7 527.3" stroke-width="0.9" fill="none" stroke="#fff" stroke-dasharray="1.3 2.2" stroke-linecap="butt"/>
<path d="M1023.3 465.9 C1025.2 469.7 1025.7 469.5 1029.6 478.4 C1033.5 487.3 1033.2 484.6 1036.4 495.6 C1039.6 506.6 1038.7 505.8 1040.4 515 C1042.1 524.2 1041.2 522.3 1042.1 526.4 C1043 530.5 1043.1 528.1 1043.5 528.8" stroke-width="1.3" fill="none" />
<path d="M1023.3 465.9 C1024.3 465.4 1024.3 464.5 1026.3 464.5 C1028.3 464.5 1028.3 465.4 1029.3 465.8" stroke-width="1.3" fill="none" />
<path d="M1035.3 460 C1036.9 458.8 1036.6 458.2 1039.9 458.6 C1043.2 459.1 1042.5 457.7 1046.2 461.5 C1050 465.3 1048.8 464.2 1052.4 471.2 C1056 478.2 1055.1 476.3 1058.2 484.9 C1061.3 493.5 1060.5 490.2 1062.7 499.8 C1064.9 509.4 1064.9 509.4 1065.6 516.9 C1066.3 524.4 1065.8 521.4 1065 524.9 C1064.2 528.4 1064.8 527.1 1063.1 528.6 C1061.4 530.1 1061.4 530.1 1059.3 530 C1057.2 529.9 1057.5 529.7 1056.1 528.2 C1054.7 526.7 1055.6 529.3 1054.7 524.9 C1053.8 520.5 1054.7 522.7 1053 513.5 C1051.3 504.3 1052.2 505.1 1049 494.1 C1045.8 483.1 1046.5 486.4 1042.2 476.9 C1037.9 467.5 1036.8 467.7 1034.7 462.6 C1032.6 457.5 1033.7 461.2 1035.3 460 Z" stroke-width="2.2" fill="none" />
<path d="M1043.1 461.4 C1043.3 461.6 1041.7 459 1043.8 462.1 C1045.9 465.2 1046.4 464.8 1050 471.8 C1053.6 478.8 1052.7 476.9 1055.8 485.5 C1058.9 494.1 1058.1 490.8 1060.3 500.4 C1062.5 510 1062.5 510 1063.2 517.5 C1063.9 525 1062.9 523.2 1062.6 525.5 C1062.3 527.8 1062.4 525.3 1062.3 525.2" stroke-width="3.2" fill="none" />
<path d="M1043.1 461.4 C1043.3 461.6 1041.7 459 1043.8 462.1 C1045.9 465.2 1046.4 464.8 1050 471.8 C1053.6 478.8 1052.7 476.9 1055.8 485.5 C1058.9 494.1 1058.1 490.8 1060.3 500.4 C1062.5 510 1062.5 510 1063.2 517.5 C1063.9 525 1062.9 523.2 1062.6 525.5 C1062.3 527.8 1062.4 525.3 1062.3 525.2" stroke-width="0.9" fill="none" stroke="#fff" stroke-dasharray="1.3 2.2" stroke-linecap="butt"/>
<path d="M1038.9 463.8 C1040.8 467.6 1041.3 467.4 1045.2 476.3 C1049.1 485.2 1048.8 482.5 1052 493.5 C1055.2 504.5 1054.3 503.7 1056 512.9 C1057.7 522.1 1056.8 520.2 1057.7 524.3 C1058.6 528.4 1058.7 526 1059.1 526.7" stroke-width="1.3" fill="none" />
<path d="M1038.9 463.8 C1039.9 463.3 1039.9 462.4 1041.9 462.4 C1043.9 462.4 1043.9 463.3 1044.9 463.7" stroke-width="1.3" fill="none" />
<path d="M983.2 571 L983.2 622 C983.4 628,985.5 631.5,989.5 630.8 C993 630,1001 620,1016 607.7 C1030 597,1045 590,1056 583.7 C1063 580,1067.5 576,1067.6 569.5 L1064.4 545 C1063.8 541,1062 539.4,1059.5 539.8" stroke-width="1.9"/>
<path d="M986.4 572 L986.4 620 C986.6 625,988 627.5,990.5 626.5 C995 622,1003 615,1018 603.5 C1031 594,1044 587.5,1054.5 581.2 C1061 578,1064.2 574.5,1064.2 569.5 L1061.4 546" stroke-width="1.2"/>
<path d="M989.5 630.8 C993 630,1001 620,1016 607.7 C1030 597,1045 590,1056 583.7" stroke-width="2.6"/>
<path d="M984.9 698.5 L984.9 650 C985 646,987 644,990 640 C1000 628,1017 612,1035 602 C1046 596,1053 593,1057.7 592.5 C1064 592,1069 594.5,1069.3 600 L1069.7 622 C1069.6 630,1066 635,1059.3 639.2 C1040 650,1012 672,990.5 695.3" stroke-width="1.6"/>
<path d="M988 697 L988 651 C988.2 648,990 646,992 643.5 C1002 631.5,1018 616,1036 605.5 C1046 599.5,1053 596,1058 595.7 C1063 595.5,1066 597.5,1066.2 601.5 L1066.6 621 C1066.4 628,1063 632,1057.5 636 C1038 647,1013 667,993 691" stroke-width="1.2"/>
<path d="M1059.3 639.2 C1040 650,1012 672,990.5 695.3" stroke-width="2.4"/>
<path d="M1070.5 693.7 L1071.3 660 C1071.4 653,1067.5 649.5,1061 649.6 C1056 649.8,1042 658,1024 674.4 C1014 684,1008 691,1003.3 696.9 C996 706,990 714,986 722 C984 726,985 728.5,987.3 729 L1022.5 721.7" stroke-width="1.6"/>
<path d="M1066.5 695 L1067.3 661 C1067.2 656,1065 653.5,1061 653.6 C1056 654,1043.5 661.5,1026 677.5 C1016 687,1010.5 693.5,1006 699.5 C999 708.5,993.5 716,990 722.5" stroke-width="1.2"/>
<path d="M989 730.8 L1020.2 725.4" stroke-width="1.6" fill="none" />
<path d="M1065 694 C1056.7 699.2 1054.5 700.2 1040 709.7 C1025.5 719.2 1035.4 710.2 1021.6 722.6 C1007.8 735 1006.2 738.9 998.5 747" stroke-width="1.6" fill="none" />
<path d="M1062 698.5 C1054.7 703.2 1052.7 704 1040 712.5 C1027.3 721 1029.3 720.2 1024 724" stroke-width="1.6" fill="none" />
<path d="M988.9 698.5 L966.5 734.9" stroke-width="1.6" fill="none" />
<path d="M979 750 L979 741.2 A6.8 6.5 0 0 1 989.2 735.5" stroke-width="1.9" stroke-linecap="butt"/>
<path d="M989.2 735 A6.8 6.5 0 0 1 992.6 741.2 L992.6 748" stroke-width="4"/>
<ellipse cx="983.6" cy="741.7" rx="2.9" ry="2.9" stroke-width="1" fill="#000"/>
<ellipse cx="983.9" cy="740.3" rx="0.9" ry="0.7" stroke-width="0.1" fill="#fff"/>
<path d="M994.4 747.8 L1037.2 739" stroke-width="1.9" fill="none" />
<path d="M1039.1 739.4 L1039.1 730.7 A6.9 6.5 0 0 1 1049.4 725" stroke-width="4.2" stroke-linecap="butt"/>
<path d="M1049.4 725.6 A6.9 6.5 0 0 1 1052.8 730.7 L1052.8 737.6" stroke-width="2"/>
<ellipse cx="1044.8" cy="732.2" rx="2.9" ry="2.9" stroke-width="1" fill="#000"/>
<ellipse cx="1045.1" cy="730.8" rx="0.9" ry="0.7" stroke-width="0.1" fill="#fff"/>
<path d="M1053.6 737.6 L1090.3 731.5" stroke-width="1.9" fill="none" />
<path d="M1053.6 737.6 L1070.6 747" stroke-width="1.6" fill="none" />
<g transform="translate(1085.5 756) rotate(208)"><path d="M-3.5 -8.5 L2.5 -9 L6.5 -4.5 L7 4 L3 8.8 L-3 9 L-7 4.5 L-7.2 -4 Z" stroke-width="2.2"/><ellipse cx="-0.5" cy="0" rx="4.4" ry="6.6" stroke-width="1.7"/><path d="M-1 -6.6 L0 6.6 M3 -8.5 L3.5 8.5" stroke-width="1.4"/><path d="M7 -4 L15 -5.2 C17 -3,17 1,15.5 3 L7 4" stroke-width="1.6"/></g>
<path d="M1046 770.2 L1072 754.6" stroke-width="1.6" fill="none" />
<g transform="translate(948.5 407.4)"><path d="M-5.5 1.4 C-3 -0.3,3 -0.3,5.5 1.4 C7.5 2.6,8.6 4.2,8.8 6 C9.8 8,9.9 11,9 12.8 L6.6 15 L4 16 L-4 16 L-6.6 15 L-9 12.8 C-9.9 11,-9.8 8,-8.8 6 C-8.6 4.2,-7.5 2.6,-5.5 1.4 Z" stroke-width="2.3" fill="#fff"/><ellipse cx="0" cy="4.7" rx="5.3" ry="2.7" stroke-width="2.1"/><path d="M-8.6 9.2 C-5 12.4,-2 13,0 13 C2 13,5 12.4,8.6 9.2 M-7.5 8 L-3 10.2 M-1.5 9.6 L5 9" stroke-width="1.9"/><path d="M-4.1 16 L-4.1 23.6 L-2 25.2 L2 25.2 L4.1 23.6 L4.1 16" stroke-width="2.0"/></g>
<g transform="translate(1024.6 394.2)"><path d="M-5.5 1.4 C-3 -0.3,3 -0.3,5.5 1.4 C7.5 2.6,8.6 4.2,8.8 6 C9.8 8,9.9 11,9 12.8 L6.6 15 L4 16 L-4 16 L-6.6 15 L-9 12.8 C-9.9 11,-9.8 8,-8.8 6 C-8.6 4.2,-7.5 2.6,-5.5 1.4 Z" stroke-width="2.3" fill="#fff"/><ellipse cx="0" cy="4.7" rx="5.3" ry="2.7" stroke-width="2.1"/><path d="M-8.6 9.2 C-5 12.4,-2 13,0 13 C2 13,5 12.4,8.6 9.2 M-7.5 8 L-3 10.2 M-1.5 9.6 L5 9" stroke-width="1.9"/><path d="M-4.1 16 L-4.1 23.6 L-2 25.2 L2 25.2 L4.1 23.6 L4.1 16" stroke-width="2.0"/></g>
<path d="M948.8 432.5 L948.8 441" stroke-width="1.9" fill="none" />
<path d="M948.8 449.5 L948.8 460.3" stroke-width="1.9" fill="none" />
<path d="M1024.9 419.6 L1024.9 428" stroke-width="1.9" fill="none" />
<path d="M1024.9 436.8 L1024.9 447.5" stroke-width="1.9" fill="none" />
<ellipse cx="949.6" cy="445" rx="8" ry="4.2" stroke-width="1.2" fill="#000"/>
<path d="M945.2 445 L954 445" stroke="#fff" stroke-width="0.9"/>
<ellipse cx="1025.7" cy="432.3" rx="8" ry="4.2" stroke-width="1.2" fill="#000"/>
<path d="M1021.3 432.3 L1030.1 432.3" stroke="#fff" stroke-width="0.9"/>
<path d="M1033.7 399.4 L1089.7 382.6" stroke-width="1.6" fill="none" />
<path d="M1064.2 464 L1128.5 435.4" stroke-width="1.6" fill="none" />
<path d="M1125.3 469.4 C1127.1 470.2 1126.5 471.4 1129.8 471.4 C1133.1 471.4 1131.2 472.1 1133.5 469.5 C1135.8 466.9 1132.5 467.3 1135.6 464.9 C1138.7 462.5 1136.4 463.6 1141.3 463.6 C1146.2 463.6 1143.7 465.4 1147.8 464.9 C1151.9 464.4 1149 465.2 1151.6 462.4 C1154.2 459.6 1153.2 459.7 1154.2 457.9" stroke-width="1.9" fill="none" />
<path d="M1126 470 L1176.4 580" stroke-width="1.9" fill="none" />
<path d="M1135.6 465 L1180.8 562.3" stroke-width="1.9" fill="none" />
<path d="M1154.2 457.9 L1204.3 568.6" stroke-width="1.9" fill="none" />
<ellipse cx="1192.3" cy="566.7" rx="8.3" ry="6.6" stroke-width="2.6" fill="none" transform="rotate(-10 1192.3 566.7)"/>
<path d="M1172 563.5 L1181.5 562.2" stroke-width="2.8" fill="none" />
<path d="M1172.6 563.5 L1176.6 580" stroke-width="3.6" fill="none" />
<path d="M1174.5 568.4 L1183.6 567.2 L1177 573 Z" stroke-width="2.2" fill="none" />
<path d="M1177 575.2 L1186 573.2 L1178.5 579.5 Z" stroke-width="2.2" fill="none" />
<path d="M1183.2 580.2 L1189.9 581.4" stroke-width="2.8" fill="none" />
<path d="M1186.2 574 L1187.2 580" stroke-width="2.2" fill="none" />
<path d="M1157.4 475.8 L1221.6 447.6" stroke-width="1.6" fill="none" />
<g transform="translate(730.3 17.90) scale(0.682 1)"><text font-size="25.94">1</text><rect x="1.3" y="-2.39" width="5.08" height="3.37" fill="#fff" stroke="none"/><rect x="8.98" y="-2.39" width="5.19" height="3.37" fill="#fff" stroke="none"/></g>
<g transform="translate(736.3 64.34) scale(0.746 1)"><text font-size="25.86">15</text><rect x="1.3" y="-2.38" width="5.07" height="3.36" fill="#fff" stroke="none"/><rect x="8.95" y="-2.38" width="5.17" height="3.36" fill="#fff" stroke="none"/></g>
<g transform="translate(744.6 104.00) scale(0.852 1)"><text font-size="26.29">2</text></g>
<g transform="translate(756.9 139.24) scale(0.780 1)"><text font-size="26.20">3</text></g>
<g transform="translate(777.3 186.77) scale(0.692 1)"><text font-size="27.21">4</text></g>
<g transform="translate(875.8 179.93) scale(0.736 1)"><text font-size="27.18">13</text><rect x="1.4" y="-2.50" width="5.33" height="3.53" fill="#fff" stroke="none"/><rect x="9.41" y="-2.50" width="5.44" height="3.53" fill="#fff" stroke="none"/></g>
<g transform="translate(609.8 588.00) scale(0.717 1)"><text font-size="26.09">14</text><rect x="1.3" y="-2.40" width="5.11" height="3.39" fill="#fff" stroke="none"/><rect x="9.03" y="-2.40" width="5.22" height="3.39" fill="#fff" stroke="none"/></g>
<g transform="translate(720.1 448.74) scale(0.709 1)"><text font-size="26.20">10</text><rect x="1.3" y="-2.41" width="5.13" height="3.41" fill="#fff" stroke="none"/><rect x="9.06" y="-2.41" width="5.24" height="3.41" fill="#fff" stroke="none"/></g>
<g transform="translate(721.2 485.87) scale(0.754 1)"><text font-size="27.06">4</text></g>
<g transform="translate(1101 389.00) scale(0.692 1)"><text font-size="26.67">1</text><rect x="1.3" y="-2.45" width="5.23" height="3.47" fill="#fff" stroke="none"/><rect x="9.23" y="-2.45" width="5.33" height="3.47" fill="#fff" stroke="none"/></g>
<g transform="translate(1137.3 437.60) scale(0.668 1)"><text font-size="25.51">11</text><rect x="1.3" y="-2.35" width="5.00" height="3.32" fill="#fff" stroke="none"/><rect x="8.83" y="-2.35" width="5.10" height="3.32" fill="#fff" stroke="none"/><rect x="13.6" y="-2.35" width="5.00" height="3.32" fill="#fff" stroke="none"/><rect x="21.12" y="-2.35" width="5.10" height="3.32" fill="#fff" stroke="none"/></g>
<g transform="translate(1230.2 450.00) scale(0.761 1)"><text font-size="26.43">12</text><rect x="1.3" y="-2.43" width="5.18" height="3.44" fill="#fff" stroke="none"/><rect x="9.14" y="-2.43" width="5.29" height="3.44" fill="#fff" stroke="none"/></g>
<g transform="translate(1026.7 787.00) scale(0.762 1)"><text font-size="27.25">1</text><rect x="1.4" y="-2.51" width="5.34" height="3.54" fill="#fff" stroke="none"/><rect x="9.43" y="-2.51" width="5.45" height="3.54" fill="#fff" stroke="none"/></g>
<g transform="translate(304.5 244.42) scale(0.784 1)"><text font-size="17.75">6</text></g>
<g transform="translate(327.4 254.82) scale(0.768 1)"><text font-size="18.00">5</text></g>
<g transform="translate(253.7 476.68) scale(0.887 1)"><text font-size="17.65">7</text></g>
<g transform="translate(273.9 496.84) scale(0.854 1)"><text font-size="16.20">8</text></g>
<g transform="translate(316.6 488.43) scale(0.810 1)"><text font-size="17.18">9</text></g>
<g transform="translate(302 465.02) scale(0.702 1)"><text font-size="18.29">15</text><rect x="0.9" y="-1.68" width="3.58" height="2.38" fill="#fff" stroke="none"/><rect x="6.33" y="-1.68" width="3.66" height="2.38" fill="#fff" stroke="none"/></g>
<g transform="translate(327.5 458.23) scale(0.694 1)"><text font-size="17.46">16</text><rect x="0.9" y="-1.61" width="3.42" height="2.27" fill="#fff" stroke="none"/><rect x="6.04" y="-1.61" width="3.49" height="2.27" fill="#fff" stroke="none"/></g>
<g transform="translate(351 453.00) scale(0.650 1)"><text font-size="18.84">17</text><rect x="0.9" y="-1.73" width="3.69" height="2.45" fill="#fff" stroke="none"/><rect x="6.52" y="-1.73" width="3.77" height="2.45" fill="#fff" stroke="none"/></g>
<g transform="translate(49.8 515.00) scale(0.885 1)"><text font-size="17.39">1</text><rect x="0.9" y="-1.60" width="3.41" height="2.26" fill="#fff" stroke="none"/><rect x="6.02" y="-1.60" width="3.48" height="2.26" fill="#fff" stroke="none"/></g>
<g transform="translate(148.4 566.00) scale(0.885 1)"><text font-size="17.39">1</text><rect x="0.9" y="-1.60" width="3.41" height="2.26" fill="#fff" stroke="none"/><rect x="6.02" y="-1.60" width="3.48" height="2.26" fill="#fff" stroke="none"/></g>
<text class="cj" transform="translate(415.7 49.2) scale(0.69 1)" font-size="22.2" style="stroke:#000;stroke-width:1.1px;stroke-linejoin:round">右盖板</text>
<text class="cj" transform="translate(977 325.4) scale(0.69 1)" font-size="22.2" style="stroke:#000;stroke-width:1.1px;stroke-linejoin:round">左盖板</text>
</svg>
</body></html>
